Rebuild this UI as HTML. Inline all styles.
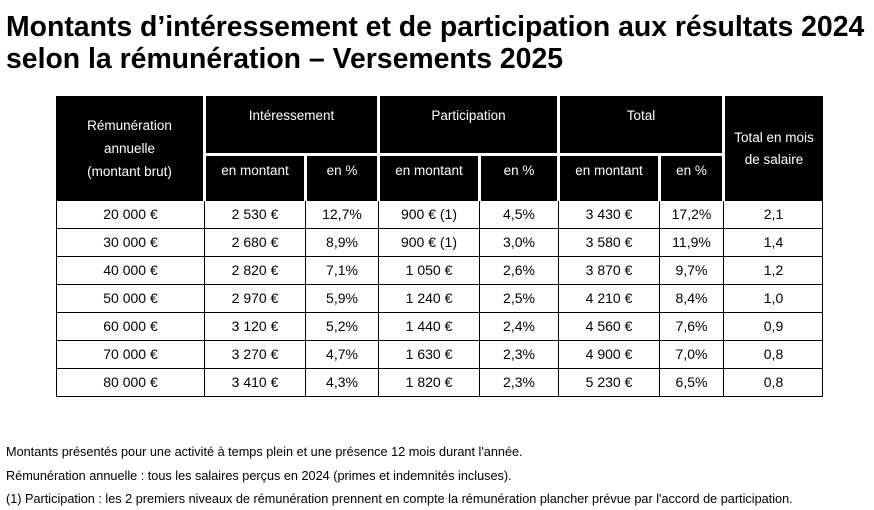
<!DOCTYPE html>
<html><head><meta charset="utf-8"><style>
body{margin:0;width:874px;height:510px;background:#fff;position:relative;overflow:hidden;font-family:"Liberation Sans",Arial,sans-serif;color:#000}
.t{position:absolute;left:6px;font-weight:bold;font-size:28.4px;letter-spacing:0px;white-space:nowrap;line-height:30px}
.h{position:absolute;background:#000;color:#fff;font-size:13.5px;text-align:center;display:flex;align-items:center;justify-content:center;line-height:23px}
.c{position:absolute;font-size:14px;text-align:center;line-height:27px;box-sizing:border-box;border-left:1px solid #000;border-bottom:1px solid #000}
.f{position:absolute;left:6px;font-size:12.7px;white-space:nowrap}
</style></head><body>
<div class="t" style="top:12px">Montants d’intéressement et de participation aux résultats 2024</div>
<div class="t" style="top:44px">selon la rémunération – Versements 2025</div>

<div class="h" style="left:56px;top:96px;width:147px;height:105px">Rémunération<br>annuelle<br>(montant brut)</div>
<div class="h" style="left:206px;top:96px;width:171px;height:57px;align-items:flex-start;padding-top:8px;box-sizing:border-box">Intéressement</div>
<div class="h" style="left:380px;top:96px;width:177px;height:57px;align-items:flex-start;padding-top:8px;box-sizing:border-box">Participation</div>
<div class="h" style="left:560px;top:96px;width:162px;height:57px;align-items:flex-start;padding-top:8px;box-sizing:border-box">Total</div>
<div class="h" style="left:725px;top:96px;width:98px;height:105px;line-height:22px">Total en mois<br>de salaire</div>
<div class="h" style="left:206px;top:156px;width:98px;height:45px;align-items:flex-start;padding-top:3px;box-sizing:border-box">en montant</div>
<div class="h" style="left:307px;top:156px;width:70px;height:45px;align-items:flex-start;padding-top:3px;box-sizing:border-box">en %</div>
<div class="h" style="left:380px;top:156px;width:98px;height:45px;align-items:flex-start;padding-top:3px;box-sizing:border-box">en montant</div>
<div class="h" style="left:481px;top:156px;width:76px;height:45px;align-items:flex-start;padding-top:3px;box-sizing:border-box">en %</div>
<div class="h" style="left:560px;top:156px;width:98px;height:45px;align-items:flex-start;padding-top:3px;box-sizing:border-box">en montant</div>
<div class="h" style="left:661px;top:156px;width:61px;height:45px;align-items:flex-start;padding-top:3px;box-sizing:border-box">en %</div>

<div id="tb"></div>
<div style="position:absolute;left:822px;top:201px;width:1px;height:196px;background:#000"></div>

<div class="f" style="top:445px">Montants présentés pour une activité à temps plein et une présence 12 mois durant l'année.</div>
<div class="f" style="top:469px">Rémunération annuelle : tous les salaires perçus en 2024 (primes et indemnités incluses).</div>
<div class="f" style="top:492px">(1) Participation : les 2 premiers niveaux de rémunération prennent en compte la rémunération plancher prévue par l'accord de participation.</div>
<script>
var xs=[56,204,305,378,479,558,659,723,823];
var d=[["20 000 €","2 530 €","12,7%","900 € (1)","4,5%","3 430 €","17,2%","2,1"],
["30 000 €","2 680 €","8,9%","900 € (1)","3,0%","3 580 €","11,9%","1,4"],
["40 000 €","2 820 €","7,1%","1 050 €","2,6%","3 870 €","9,7%","1,2"],
["50 000 €","2 970 €","5,9%","1 240 €","2,5%","4 210 €","8,4%","1,0"],
["60 000 €","3 120 €","5,2%","1 440 €","2,4%","4 560 €","7,6%","0,9"],
["70 000 €","3 270 €","4,7%","1 630 €","2,3%","4 900 €","7,0%","0,8"],
["80 000 €","3 410 €","4,3%","1 820 €","2,3%","5 230 €","6,5%","0,8"]];
var h="";
for(var r=0;r<7;r++){var y=201+r*28;for(var c=0;c<8;c++){h+='<div class="c" style="left:'+xs[c]+'px;top:'+y+'px;width:'+(xs[c+1]-xs[c])+'px;height:28px">'+d[r][c]+'</div>';}}
document.getElementById("tb").innerHTML=h;
</script>
</body></html>
